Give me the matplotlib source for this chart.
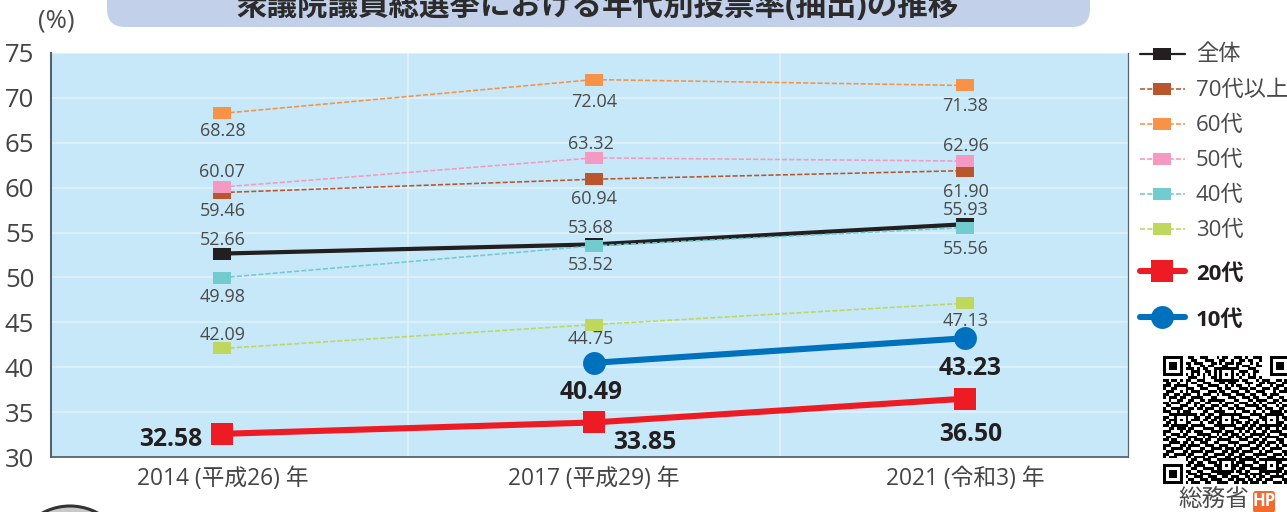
import numpy as np
import matplotlib
matplotlib.use("Agg")
import matplotlib.pyplot as plt
from matplotlib.patches import FancyBboxPatch, Circle
from matplotlib.path import Path

plt.rcParams['font.family'] = ['Open Sans', 'Noto Sans CJK JP', 'DejaVu Sans']

W, H = 1287, 512

# data
years = ['2014 (平成26) 年', '2017 (平成29) 年', '2021 (令和3) 年']
yticks = [30, 35, 40, 45, 50, 55, 60, 65, 70, 75]

all_ages = [52.66, 53.68, 55.93]
age70 = [59.46, 60.94, 61.90]
age60 = [68.28, 72.04, 71.38]
age50 = [60.07, 63.32, 62.96]
age40 = [49.98, 53.52, 55.56]
age30 = [42.09, 44.75, 47.13]
age20 = [32.58, 33.85, 36.50]
age10 = [np.nan, 40.49, 43.23]

names = ['全体', '70代以上', '60代', '50代', '40代', '30代', '20代', '10代']
series = [all_ages, age70, age60, age50, age40, age30, age20, age10]
colors = ['#231f20', '#b9562e', '#f79246', '#f499c1', '#72cbcf', '#bdd85c', '#ed1c24', '#0071bc']

# label offsets from each point in pixels (dx, dy up)
offsets = [
    [(0, 13.5), (-3, 16), (0, 14)],
    [(0, -18.5), (0, -19.5), (0, -21.5)],
    [(0, -17.5), (0, -22.5), (0, -20.5)],
    [(0, 15.5), (-3, 13.5), (0, 15.5)],
    [(0, -19.5), (-3, -19.5), (0, -21.5)],
    [(0, 13.5), (-3, -14.5), (0, -17.5)],
    [(-52, -5.5), (51, -20.5), (5, -35.5)],
    [(0, 0), (-3, -29.5), (5, -30.5)],
]

# hand copied look of the code in the corner, finder squares are added below
qr_rows = [
    "000000000110011100010110011101001110000000000",
    "000000000011000111001100100110110010000000000",
    "000000001101110001101011101100010100000000000",
    "000000000100011011000110001011100110000000000",
    "000000001110101100111001011000111000000000000",
    "000000000011100110100111000111001100000000000",
    "000000001010101010101010101010101000000000000",
    "000000000111001001100011100100111010000000000",
    "110110101100111000111010011011000101110011011",
    "011001001011001110001101110001110011011100110",
    "111011111000110011110010101100100110001011100",
    "100110001110011100011011000111011001110110011",
    "011100101011100011101100111001100111000101110",
    "110011011100101110010111001110011001101110001",
    "101110110011110001100001110011101100011001101",
    "001001100110011011111100011000110111100110110",
    "110111001101100110001011100111001010011101001",
    "011000111001011001110110011001111101100010111",
    "100111100110110111001001101110000110111001100",
    "111001011100001100111100010011101001001111010",
    "001110100111011011000111011100011110110001101",
    "110011110001100110110001100111100011011100111",
    "101100011011101101101110111000110101100110010",
    "011011101100010011011001001101101100111011101",
    "110110011011111000110111110011011011001101011",
    "001101110110001111001100011110110110110010110",
    "111000101101110001111011100101101001101111001",
    "100111011000111110010110111010011111010001110",
    "011001110111001011101001101101110010111110011",
    "110110001101110110011111000111001101100011101",
    "001111011010011100110001111000111011011101100",
    "111000110111100111001110010111100110110010111",
    "100111101100011001111011101100011101001111001",
    "011100011011110111000110111011110010111000110",
    "110011110110001100111101100110001111100111011",
    "101110001101111011100011011101110100011100101",
    "000000001011001110011110110111111011110011110",
    "000000000110110011101001101110001100111011001",
    "000000001101111000110111011011110011001110111",
    "000000000011001111011100110110011111100101100",
    "000000001100110001110011101101100011011111011",
    "000000000111011110011111000111011110110010110",
    "000000001001110011100110111001101011001111101",
    "000000000110011101111001101110110110111000111",
    "000000001011100110011110011011011101100111010",
]


def rect_marker():
    return Path([(-1, -0.64), (1, -0.64), (1, 0.64), (-1, 0.64), (-1, -0.64)], closed=True)


def style_for(i):
    if i == 0:
        return dict(lw=3.0, ls='-', marker=rect_marker(), ms=13)
    if i == 6:
        return dict(lw=4.4, ls='-', marker='s', ms=16.5)
    if i == 7:
        return dict(lw=4.4, ls='-', marker='o', ms=16.5)
    return dict(lw=1.15, ls=(0, (3.2, 1.3)), marker=rect_marker(), ms=13)


def qr_matrix():
    m = np.array([[int(c) for c in r.ljust(45, '0')[:45]] for r in qr_rows], dtype=float)
    finder = np.ones((7, 7))
    finder[1:6, 1:6] = 0
    finder[2:5, 2:5] = 1
    m[:8, :8] = 0
    m[:8, 37:] = 0
    m[37:, :8] = 0
    m[:7, :7] = finder
    m[:7, 38:] = finder
    m[38:, :7] = finder
    align = np.ones((5, 5))
    align[1:4, 1:4] = 0
    align[2, 2] = 1
    for r, c in [(4, 20), (20, 4), (20, 20), (20, 36), (36, 20), (36, 36)]:
        m[r:r + 5, c:c + 5] = align
    return m


fig = plt.figure(figsize=(W / 100, H / 100), dpi=100)

# main plot area
ax = fig.add_axes([51 / W, 1 - 457 / H, (1128 - 51) / W, (457 - 53) / H])
ax.set_facecolor('#c6e8f9')
ax.set_xlim(-0.4616, 2.4375)
ax.set_ylim(30, 75)
ax.set_yticks(yticks)
ax.set_xticks([0, 1, 2])
ax.set_xticklabels(years, fontsize=16.4, color='#444444')
ax.set_xticks([0.5, 1.5], minor=True)
ax.tick_params(axis='both', which='both', length=0)
ax.tick_params(axis='y', labelsize=18.5, labelcolor='#444444', pad=12)
ax.tick_params(axis='x', pad=7)
ax.grid(True, which='major', axis='y', color='#e3f3fc', lw=1.1)
ax.grid(True, which='minor', axis='x', color='#e3f3fc', lw=1.1)
ax.set_axisbelow(True)
ax.spines['top'].set_visible(False)
for s in ['left', 'bottom', 'right']:
    ax.spines[s].set_color('#57626b')
ax.spines['left'].set_linewidth(1.5)
ax.spines['bottom'].set_linewidth(1.3)
ax.spines['right'].set_linewidth(0.9)

xs = np.arange(len(years))
for i, vals in enumerate(series):
    st = style_for(i)
    ax.plot(xs, vals, color=colors[i], lw=st['lw'], ls=st['ls'], marker=st['marker'],
            ms=st['ms'], mew=0, zorder=3 + i, clip_on=False)
    big = i >= 6
    for j, v in enumerate(vals):
        if np.isnan(v):
            continue
        ax.annotate(f'{v:.2f}', (xs[j], v), xytext=offsets[i][j], textcoords='offset pixels',
                    ha='center', va='center', zorder=20,
                    fontsize=17.7 if big else 13,
                    fontweight='bold' if big else 'normal',
                    color='#231f20' if big else '#4a4a4a')

# overlay in pixel coordinates for the title, legend and corner items
ov = fig.add_axes([0, 0, 1, 1], zorder=5)
ov.set_xlim(0, W)
ov.set_ylim(H, 0)
ov.axis('off')
ov.patch.set_alpha(0)

ov.add_patch(FancyBboxPatch((107, -30), 983, 57, boxstyle='round,pad=0,rounding_size=18',
                            fc='#c3d0ea', ec='none'))
ov.text(598, 6.5, '衆議院議員総選挙における年代別投票率(抽出)の推移', ha='center', va='center',
        fontsize=22, fontweight='bold', color='#2b2b2b')
ov.text(56, 21, '(%)', ha='center', va='center', fontsize=18.5, color='#4a4a4a')

# legend
legend_y = [54, 89, 124, 159, 194, 229, 271, 317]
text_shift = [1, 1, 1, 1, 1, 1, 3, 3]
for i, name in enumerate(names):
    st = style_for(i)
    lw = 1.6 if i == 0 else st['lw']
    ov.plot([1140, 1185], [legend_y[i]] * 2, color=colors[i], lw=lw, ls=st['ls'],
            solid_capstyle='round')
    ov.plot([1162], [legend_y[i]], color=colors[i], marker=st['marker'], ms=st['ms'], mew=0)
    ov.text(1196, legend_y[i] + text_shift[i], name, ha='left', va='center', fontsize=16,
            fontweight='bold' if i >= 6 else 'normal',
            color='#231f20' if i >= 6 else '#4a4a4a')

# QR code
ov.imshow(qr_matrix(), cmap='gray_r', vmin=0, vmax=1, extent=(1163, 1290, 484, 356),
          interpolation='nearest', aspect='auto')
ov.set_xlim(0, W)
ov.set_ylim(H, 0)
ov.text(1214, 499.5, '総務省', ha='center', va='center', fontsize=17, color='#4a4a4a')
ov.add_patch(FancyBboxPatch((1253, 491), 22, 22, boxstyle='round,pad=0,rounding_size=3',
                            fc='#f26a2e', ec='none'))
ov.text(1264, 501, 'HP', ha='center', va='center', fontsize=12, fontweight='bold', color='white')

# circle peeking in at the bottom left
ov.add_patch(Circle((70, 564), 58, fc='#c9c9c9', ec='#333333', lw=2.2))

fig.savefig('out.png', dpi=100)
